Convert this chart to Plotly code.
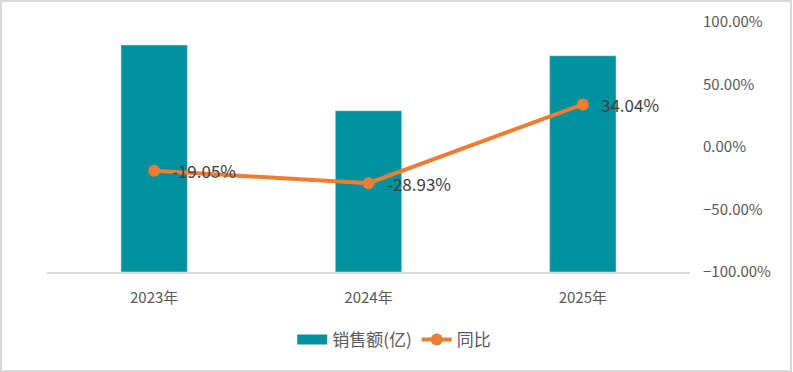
import plotly.graph_objects as go

years = ["2023年", "2024年", "2025年"]
sales = [90.8, 64.5, 86.5]
yoy = [-0.1905, -0.2893, 0.3404]
yoy_labels = ["-19.05%", "-28.93%", "34.04%"]

BAR = "#00919E"
LINE = "#ED7D31"
FONT = "Noto Sans CJK SC, Noto Sans, sans-serif"

fig = go.Figure()
fig.add_trace(go.Bar(
    x=years, y=sales, name="销售额(亿)", marker_color=BAR,
    yaxis="y", width=0.31, showlegend=False,
))
# legend proxy for the bar series (wide rectangle swatch)
fig.add_trace(go.Scatter(
    x=[None], y=[None], name="销售额(亿)", mode="lines",
    line=dict(color=BAR, width=11), yaxis="y",
))
fig.add_trace(go.Scatter(
    x=years, y=yoy, name="同比", mode="lines+markers",
    line=dict(color=LINE, width=4), marker=dict(color=LINE, size=12),
    yaxis="y2",
))
for xv, yv, lab in zip(years, yoy, yoy_labels):
    fig.add_annotation(x=xv, y=yv, xref="x", yref="y2", text=lab,
                       showarrow=False, xanchor="left", yanchor="middle",
                       xshift=16, font=dict(size=17, color="#404040", family=FONT))

W, H = 793, 372
l, r, t, b = 47, 103, 22, 100
pw, ph = W - l - r, H - t - b

fig.update_layout(
    width=W, height=H,
    margin=dict(l=l, r=r, t=t, b=b, autoexpand=False),
    paper_bgcolor="white", plot_bgcolor="white",
    font=dict(family=FONT, color="#595959"),
    xaxis=dict(showline=True, linecolor="#d9d9d9", linewidth=1.5,
               tickfont=dict(size=15, color="#595959"), ticks="",
               showgrid=False, zeroline=False, automargin=False,
               ticklabelstandoff=11),
    yaxis=dict(range=[0, 100], visible=False, showgrid=False, zeroline=False,
               automargin=False),
    yaxis2=dict(range=[-1, 1], dtick=0.5, tickformat=".2%", overlaying="y",
                side="right", showgrid=False, zeroline=False, showline=False,
                tickfont=dict(size=15, color="#595959"), ticks="",
                ticklabelstandoff=12, automargin=False),
    showlegend=True,
    legend=dict(orientation="h", x=0.54, xanchor="center", y=-0.2, yanchor="top",
                font=dict(size=17, color="#595959")),
    shapes=[dict(type="rect", xref="paper", yref="paper",
                 x0=(1 - l) / pw, x1=(791 - l) / pw,
                 y0=(t + ph - 371) / ph, y1=(t + ph - 1) / ph,
                 line=dict(color="#d9d9d9", width=2), layer="below")],
)

fig.write_html("out.html", config={"displayModeBar": False},
               post_script="document.body.style.margin='0';document.body.style.overflow='hidden';")
